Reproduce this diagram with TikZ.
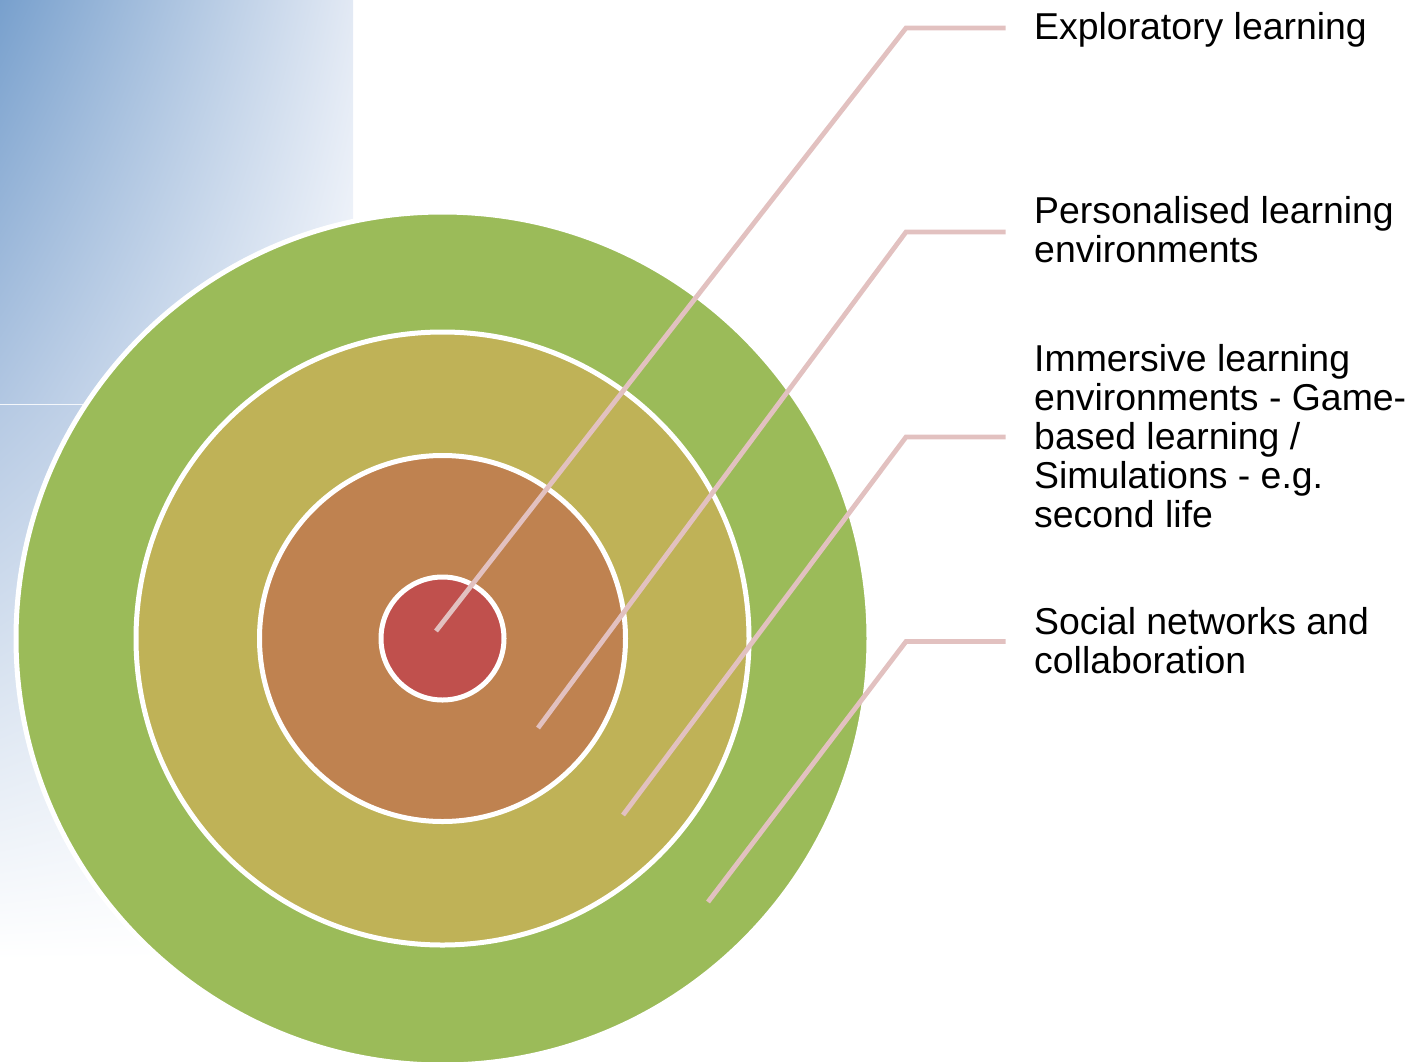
\documentclass[tikz,border=0pt]{standalone}
\usepackage{fontspec}
\setmainfont{Liberation Sans}
\usetikzlibrary{calc,shadings}
\definecolor{ringA}{HTML}{9BBB59}
\definecolor{ringB}{HTML}{BFB257}
\definecolor{ringC}{HTML}{BF8250}
\definecolor{ringD}{HTML}{C0504D}
\definecolor{callout}{HTML}{E2C1C0}
\definecolor{bgA}{HTML}{78A0CD}
\definecolor{bgB}{HTML}{E2E9F4}
\definecolor{bgC}{HTML}{B2C7E2}
\definecolor{bgD}{HTML}{F7F9FD}
\definecolor{bgE}{HTML}{B5C9E3}
\definecolor{bgF}{HTML}{E3EAF4}
\begin{document}
\begin{tikzpicture}[x=1pt,y=-1pt,
  ring/.style={draw=white,line width=5pt},
  leader/.style={draw=callout,line width=4.8pt},
  lbl/.style={anchor=north west,inner sep=0pt,align=left,
    font=\fontsize{37.4}{39}\selectfont,text=black}]
\useasboundingbox (0,0) rectangle (1411,1061);
\clip (0,0) rectangle (1411,1061);
% background gradients
\shade[upper left=bgA,upper right=bgB,lower left=bgC,lower right=bgD]
  (0,0) rectangle (353,404);
\shade[upper left=bgE,upper right=bgF,lower left=white,lower right=white]
  (0,404) rectangle (330,960);
\draw[white!60!bgF,line width=1.2pt] (0,404.3) -- (200,404.3);
% rings
\coordinate (c) at (442.5,638.5);
\path[ring,fill=ringA] (c) circle[radius=426.5];
\path[ring,fill=ringB] (c) circle[radius=306.5];
\path[ring,fill=ringC] (c) circle[radius=183];
\path[ring,fill=ringD] (c) circle[radius=61.5];
% labels
\node[lbl] (l1) at (1034,11.7) {\strut Exploratory learning};
\node[lbl] (l2) at (1034,195.7) {\strut Personalised learning\\environments};
\node[lbl] (l3) at (1034,343.7) {\strut Immersive learning\\environments - Game-\\based learning /\\Simulations - e.g.\\second life};
\node[lbl] (l4) at (1034,606.7) {\strut Social networks and\\collaboration};
% leader points
\coordinate (e1) at (436,631);
\coordinate (k1) at (906,28);
\coordinate (h1) at (1005.5,28);
\coordinate (e2) at (538,728);
\coordinate (k2) at (906,232);
\coordinate (h2) at (1005.5,232);
\coordinate (e3) at (623,815);
\coordinate (k3) at (906,437);
\coordinate (h3) at (1005.5,437);
\coordinate (e4) at (708,902);
\coordinate (k4) at (906,641.5);
\coordinate (h4) at (1005.5,641.5);
\draw[leader] (e1) -- (k1) -- (h1);
\draw[leader] (e2) -- (k2) -- (h2);
\draw[leader] (e3) -- (k3) -- (h3);
\draw[leader] (e4) -- (k4) -- (h4);
\end{tikzpicture}
\end{document}
